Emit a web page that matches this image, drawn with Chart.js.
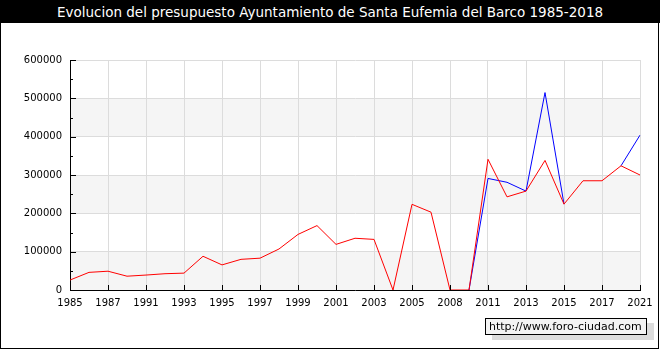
<!DOCTYPE html>
<html>
<head>
<meta charset="utf-8">
<script src="https://cdn.jsdelivr.net/npm/chart.js@4/dist/chart.umd.min.js"></script>
<style>
  body { margin: 0; background: #fff; }
  #wrap { position: relative; width: 660px; height: 350px; overflow: hidden; }
  #title {
    position: absolute; left: 0; top: 0; width: 660px; height: 22px; padding-top: 1px;
    background: #000; color: #fff; text-align: center;
    font: 13.5px "DejaVu Sans", sans-serif; line-height: 22px;
  }
  #frame {
    position: absolute; left: 0; top: 0; width: 659px; height: 349px;
    border: 1px solid #000; box-sizing: border-box; pointer-events: none;
  }
  #mark {
    position: absolute; left: 485px; top: 318px; width: 157px; height: 15px;
    border: 1px solid #000; background: #f3f3f3; box-shadow: 7px 5px 0 #dcdcdc;
    font: 11px "DejaVu Sans", sans-serif; line-height: 15px; color: #000;
    padding-left: 3px; box-sizing: content-box;
  }
  canvas { position: absolute; left: 0; top: 0; }
</style>
</head>
<body>
<div id="wrap">
  <canvas id="chart" width="660" height="350"></canvas>
  <div id="title">Evolucion del presupuesto Ayuntamiento de Santa Eufemia del Barco 1985-2018</div>
  <div id="frame"></div>
  <div id="mark">http://www.foro-ciudad.com</div>
</div>
<script>
// años (solo se rotula uno de cada dos)
const years = ['1985','1986','1987','1989','1991','1992','1993','1994','1995','1996',
  '1997','1998','1999','2000','2001','2002','2003','2004','2005','2006',
  '2008','2010','2011','2012','2013','2014','2015','2016','2017','2019','2021'];

// serie roja
const ingresos = [26000, 46000, 49000, 36000, 39000, 42500, 44000, 88000, 65500, 80000,
  83000, 107000, 145000, 168000, 119000, 135000, 132000, 0, 223500, 203000,
  0, 0, 341000, 243000, 258000, 338000, 224000, 285000, 285000, 324000, 300000];

// serie azul (casi siempre debajo de la roja)
const gastos = [26000, 46000, 49000, 36000, 39000, 42500, 44000, 88000, 65500, 80000,
  83000, 107000, 145000, 168000, 119000, 135000, 132000, 0, 223500, 203000,
  0, 0, 291000, 281000, 258000, 515000, 224000, 285000, 285000, 324000, 404000];

const yTicks = [0, 100000, 200000, 300000, 400000, 500000, 600000];
const bandas = [[0, 100000], [200000, 300000], [400000, 500000]];

const FONT = { family: 'DejaVu Sans', size: 10 };

const bandPlugin = {
  id: 'bands',
  beforeDraw(chart) {
    const { ctx, chartArea: a, scales: { y } } = chart;
    ctx.save();
    ctx.fillStyle = '#f5f5f5';
    bandas.forEach(([lo, hi]) => {
      const t = y.getPixelForValue(hi), b = y.getPixelForValue(lo);
      ctx.fillRect(a.left, t, a.right - a.left, b - t);
    });
    ctx.restore();
  }
};

// marcas hacia dentro del área
const tickPlugin = {
  id: 'innerTicks',
  afterDraw(chart) {
    const { ctx, chartArea: a, scales: { x, y } } = chart;
    ctx.save();
    ctx.strokeStyle = '#000';
    ctx.lineWidth = 1;
    ctx.beginPath();
    for (let v = 0; v <= 600000; v += 50000) {
      const py = Math.round(y.getPixelForValue(v)) + 0.5;
      const len = v % 100000 === 0 ? 6 : 3;
      ctx.moveTo(a.left, py);
      ctx.lineTo(a.left + len, py);
    }
    x.ticks.forEach((t, i) => {
      const px = Math.round(x.getPixelForTick(i)) + 0.5;
      ctx.moveTo(px, a.bottom);
      ctx.lineTo(px, a.bottom - 5);
    });
    ctx.stroke();
    ctx.restore();
  }
};

// el azul queda oculto donde coincide con el rojo
const mismoTramo = c => gastos[c.p0DataIndex] === ingresos[c.p0DataIndex] &&
  gastos[c.p1DataIndex] === ingresos[c.p1DataIndex];

new Chart(document.getElementById('chart'), {
  type: 'line',
  data: {
    labels: years,
    datasets: [
      { data: ingresos, borderColor: '#ff0000', borderWidth: 1, pointRadius: 0, tension: 0, fill: false, order: 0 },
      { data: gastos, borderColor: '#0000ff', borderWidth: 1, pointRadius: 0, tension: 0, fill: false, order: 1,
        segment: { borderColor: c => mismoTramo(c) ? 'rgba(0,0,0,0)' : undefined } }
    ]
  },
  options: {
    responsive: false,
    animation: false,
    layout: { padding: { top: 60, right: 20, left: 0, bottom: 0 } },
    plugins: { legend: { display: false }, tooltip: { enabled: false } },
    scales: {
      x: {
        type: 'category',
        grid: { color: '#dcdcdc', drawTicks: false },
        border: { color: '#000' },
        ticks: { autoSkip: false, maxRotation: 0, color: '#000', font: FONT, padding: 7 },
        afterBuildTicks: s => { s.ticks = s.ticks.filter((t, i) => i % 2 === 0); },
        afterFit: s => { s.height = 60; }
      },
      y: {
        min: 0, max: 600000,
        grid: { color: '#dcdcdc', drawTicks: false },
        border: { color: '#000' },
        ticks: { stepSize: 100000, color: '#000', font: FONT, padding: 8, callback: v => String(v) },
        afterBuildTicks: s => { s.ticks = yTicks.map(v => ({ value: v })); },
        afterFit: s => { s.width = 70; }
      }
    }
  },
  plugins: [bandPlugin, tickPlugin]
});
</script>
</body>
</html>
